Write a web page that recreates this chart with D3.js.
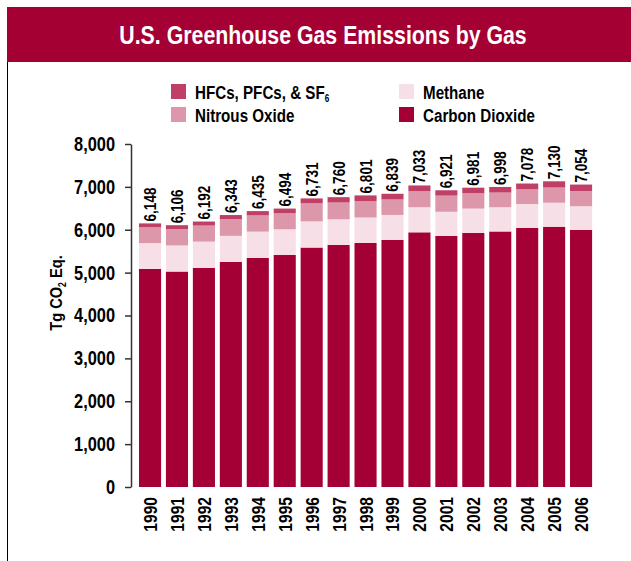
<!DOCTYPE html>
<html>
<head>
<meta charset="utf-8">
<script src="https://cdn.jsdelivr.net/npm/d3@7"></script>
<style>
  body { margin: 0; background: #fff; }
  svg { display: block; }
  text { font-family: "Liberation Sans", Arial, sans-serif; font-weight: bold; }
</style>
</head>
<body>
<svg id="chart" width="631" height="561"></svg>
<script>
var years = ['1990','1991','1992','1993','1994','1995','1996','1997','1998','1999',
             '2000','2001','2002','2003','2004','2005','2006'];
var totals = [6148, 6106, 6192, 6343, 6435, 6494, 6731, 6760, 6801, 6839,
              7033, 6921, 6981, 6998, 7078, 7130, 7054];
var co2 = [5085, 5025, 5108, 5248, 5341, 5411, 5585, 5644, 5691, 5761,
           5940, 5854, 5924, 5960, 6041, 6070, 5994];
var ch4 = [605, 610, 615, 610, 615, 600, 610, 600, 595, 585,
           585, 565, 570, 565, 560, 560, 555];
var n2o = [368, 383, 374, 390, 379, 373, 421, 391, 380, 361,
           373, 377, 357, 343, 342, 355, 355];
var hfc = [90, 88, 95, 95, 100, 110, 115, 125, 135, 132,
           135, 125, 130, 130, 135, 145, 150];
var y_ticks = [0, 1000, 2000, 3000, 4000, 5000, 6000, 7000, 8000];

var series_keys = ['co2', 'ch4', 'n2o', 'hfc'];
var colors = {'co2': '#a40035', 'ch4': '#f6dfe6', 'n2o': '#dc97aa', 'hfc': '#bf3f67'};
var narrow = 0.82; // condensed look from a regular sans

var rows = years.map(function(y, i) {
  return {year: y, co2: co2[i], ch4: ch4[i], n2o: n2o[i], hfc: hfc[i], total: totals[i]};
});

function place(tx, ty, rot, sx) {
  return 'translate(' + tx + ',' + ty + ')' + (rot ? ' rotate(' + rot + ')' : '') + ' scale(' + (sx || narrow) + ',1)';
}

var svg = d3.select('#chart');

// header band
svg.append('rect').attr('x', 7).attr('y', 7).attr('width', 624).attr('height', 55).style('fill', '#a50034');
svg.append('text').attr('transform', place(323, 44)).attr('text-anchor', 'middle')
  .style('fill', '#fff').style('font-size', '26px')
  .text('U.S. Greenhouse Gas Emissions by Gas');
svg.append('line').attr('x1', 7.5).attr('x2', 7.5).attr('y1', 62).attr('y2', 561)
  .style('stroke', '#000').style('stroke-width', 1);

var x = d3.scaleBand().domain(years).range([136.3, 594.8]).paddingInner(0.18).paddingOuter(0.1);
var y = d3.scaleLinear().domain([0, 8000]).range([487, 144]);

var stacked = d3.stack().keys(series_keys)(rows);

svg.selectAll('.layer')
  .data(stacked)
  .enter()
  .append('g')
    .attr('class', 'layer')
    .style('fill', d => colors[d.key])
  .selectAll('rect')
  .data(d => d)
  .enter()
  .append('rect')
    .attr('x', d => x(d.data.year))
    .attr('width', x.bandwidth())
    .attr('y', d => y(d[1]))
    .attr('height', d => y(d[0]) - y(d[1]));

// total labels
svg.selectAll('.total_label')
  .data(rows)
  .enter()
  .append('text')
    .attr('class', 'total_label')
    .attr('transform', d => place(x(d.year) + x.bandwidth()/2 + 6, y(d.total) - 2, -90))
    .style('font-size', '16.5px')
    .text(d => d3.format(',')(d.total));

// y axis
var yaxis = svg.append('g')
  .attr('transform', 'translate(131,0)')
  .attr('font-family', null).attr('font-size', null)
  .call(d3.axisLeft(y).tickValues(y_ticks).tickFormat(d3.format(',')).tickSize(6).tickSizeOuter(0).tickPadding(10));
yaxis.select('.domain').style('stroke', '#333').style('stroke-width', 1.5);
yaxis.selectAll('.tick line').style('stroke', '#333').style('stroke-width', 1.5);
yaxis.selectAll('.tick text')
  .attr('x', -16 / narrow)
  .attr('transform', 'scale(' + narrow + ',1)')
  .style('font-size', '20px').style('font-family', '"Liberation Sans", Arial, sans-serif')
  .style('font-weight', 'bold').style('fill', '#000');

var ytitle = svg.append('text')
  .attr('transform', place(62, 293, -90, 0.86))
  .attr('text-anchor', 'middle')
  .style('font-size', '17px');
ytitle.append('tspan').text('Tg CO');
ytitle.append('tspan').attr('dy', 4).style('font-size', '10px').text('2');
ytitle.append('tspan').attr('dy', -4).text(' Eq.');

// x labels
svg.selectAll('.year_label')
  .data(years)
  .enter()
  .append('text')
    .attr('class', 'year_label')
    .attr('transform', d => place(x(d) + x.bandwidth()/2 + 7, 497, -90))
    .attr('text-anchor', 'end')
    .style('font-size', '19px')
    .text(d => d);

// legend
var legend_items = [
  {key: 'hfc', label: 'HFCs, PFCs, & SF', sub: '6', x: 171, y: 84},
  {key: 'n2o', label: 'Nitrous Oxide', x: 171, y: 107},
  {key: 'ch4', label: 'Methane', x: 399, y: 84},
  {key: 'co2', label: 'Carbon Dioxide', x: 399, y: 107}
];
var lg = svg.selectAll('.legend_item')
  .data(legend_items)
  .enter()
  .append('g')
    .attr('class', 'legend_item')
    .attr('transform', d => 'translate(' + d.x + ',' + d.y + ')');
lg.append('rect').attr('width', 15).attr('height', 15).style('fill', d => colors[d.key]);
var lt = lg.append('text').attr('transform', place(24, 15)).style('font-size', '18.5px');
lt.append('tspan').text(d => d.label);
lt.filter(d => d.sub).append('tspan').attr('dy', 3).style('font-size', '10px').text(d => d.sub);
</script>
</body>
</html>
